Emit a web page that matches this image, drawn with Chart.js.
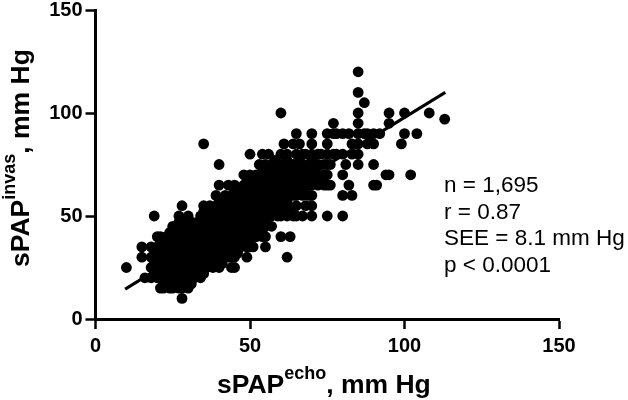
<!DOCTYPE html>
<html>
<head>
<meta charset="utf-8">
<style>html,body{margin:0;padding:0;background:#fff}canvas{display:block}</style>
<script src="https://cdn.jsdelivr.net/npm/chart.js@4"></script>
</head>
<body>
<canvas id="c" width="628" height="400"></canvas>
<script>
const xTicks = [0, 50, 100, 150];
const yTicks = [0, 50, 100, 150];
const statLines = ["n = 1,695", "r = 0.87", "SEE = 8.1 mm Hg", "p < 0.0001"];
const regressionX = [9.6, 113.2];
const regressionY = [14.5, 110];

// Measured x positions, grouped by the sPAP-invasive level they sit on
const levels = [10, 15, 17, 20, 22, 25, 27, 30, 32, 35, 37, 40, 42, 45, 47, 50, 52, 55, 57, 60, 62, 65, 67, 70, 72, 75, 77, 80, 85, 90, 95, 97, 100, 105, 110, 120];
const x10 = [28];
const x15 = [21, 22, 24, 25, 27, 28, 30];
const x17 = [22, 24, 26, 28, 29, 31];
const x20 = [16, 18, 20, 21, 22, 24, 25, 26, 27, 28, 30, 31, 32, 34];
const x22 = [19, 21, 23, 25, 27, 29, 31, 33, 35];
const x25 = [10, 18, 20, 22, 23, 25, 26, 28, 29, 30, 32, 33, 35, 36, 38, 40, 44, 45];
const x27 = [19, 22, 24, 26, 28, 30, 32, 34, 36, 38, 41];
const x30 = [15, 18, 20, 21, 23, 25, 26, 28, 30, 31, 33, 35, 36, 38, 40, 41, 43, 44, 45, 49, 62];
const x32 = [19, 21, 24, 26, 28, 30, 33, 35, 37, 39, 41, 44, 46];
const x35 = [15, 18, 20, 22, 24, 25, 27, 29, 30, 32, 34, 35, 37, 39, 40, 42, 44, 45, 47, 49, 50, 51, 55];
const x37 = [21, 23, 25, 27, 29, 31, 33, 35, 38, 40, 42, 44, 46, 48, 50];
const x40 = [20, 21, 23, 25, 27, 28, 30, 32, 34, 35, 37, 39, 40, 42, 44, 45, 47, 49, 50, 52, 54, 55, 60, 63];
const x42 = [24, 26, 28, 30, 32, 34, 36, 38, 40, 42, 44, 46, 48, 50, 52, 54];
const x45 = [25, 27, 28, 30, 32, 34, 35, 37, 39, 40, 42, 44, 45, 47, 49, 50, 52, 54, 55, 57];
const x47 = [27, 29, 31, 33, 35, 37, 39, 41, 43, 45, 47, 49, 51, 53, 55];
const x50 = [19, 27, 30, 34, 35, 37, 39, 40, 42, 44, 45, 47, 49, 50, 52, 54, 55, 57, 59, 60, 62, 64, 65, 67, 70, 75, 80];
const x52 = [35, 37, 39, 41, 43, 45, 47, 49, 51, 53, 55, 57, 59, 61, 63];
const x55 = [28, 35, 37, 39, 40, 42, 44, 45, 47, 49, 50, 52, 54, 55, 57, 59, 60, 62, 65, 68, 70];
const x57 = [40, 42, 44, 46, 48, 50, 52, 54, 56, 58, 60, 62];
const x60 = [39, 42, 44, 45, 47, 49, 50, 52, 54, 55, 57, 59, 60, 62, 64, 65, 67, 69, 70, 80, 83];
const x62 = [45, 47, 49, 51, 53, 55, 57, 59, 61, 63, 65, 67];
const x65 = [40, 43, 45, 48, 50, 52, 54, 55, 57, 59, 60, 62, 64, 65, 67, 69, 70, 72, 74, 75, 76, 82, 90, 91];
const x67 = [49, 51, 53, 55, 57, 59, 61, 64, 66, 68, 70, 72];
const x70 = [48, 50, 52, 54, 55, 57, 59, 60, 62, 64, 65, 67, 69, 70, 72, 74, 75, 80, 94, 95, 102];
const x72 = [54, 57, 60, 62, 65, 68, 71];
const x75 = [40, 53, 55, 57, 59, 60, 62, 64, 65, 67, 69, 70, 72, 74, 75, 76, 81, 85, 90];
const x77 = [58, 62, 66, 70];
const x80 = [50, 54, 56, 60, 62, 65, 67, 68, 70, 72, 73, 75, 77, 78, 80, 83, 85];
const x85 = [35, 61, 64, 66, 70, 75, 83, 85, 88, 90, 99];
const x90 = [65, 70, 75, 77, 78, 80, 82, 85, 87, 88, 90, 92, 100, 104];
const x95 = [77, 85, 95];
const x97 = [113];
const x100 = [60, 85, 95, 100, 108];
const x105 = [87];
const x110 = [85];
const x120 = [85];
const rows = [x10, x15, x17, x20, x22, x25, x27, x30, x32, x35, x37, x40, x42, x45, x47, x50, x52, x55, x57, x60, x62, x65, x67, x70, x72, x75, x77, x80, x85, x90, x95, x97, x100, x105, x110, x120];

const points = [];
rows.forEach((xs, i) => xs.forEach(x => points.push({ x, y: levels[i] })));
const regression = regressionX.map((x, i) => ({ x, y: regressionY[i] }));

function drawRuns(ctx, runs) {
  let pos = 0;
  runs.forEach(r => {
    ctx.font = r.font;
    ctx.fillText(r.text, pos, r.raise ? -r.raise : 0);
    pos += ctx.measureText(r.text).width;
  });
}

const textPlugin = {
  id: 'textPlugin',
  afterDraw(chart) {
    const ctx = chart.ctx;
    ctx.save();
    ctx.fillStyle = '#000';
    ctx.textBaseline = 'alphabetic';
    ctx.textAlign = 'left';
    const big = 'bold 26.5px "Liberation Sans"';
    const small = 'bold 18px "Liberation Sans"';
    ctx.save();
    ctx.translate(217, 393);
    drawRuns(ctx, [
      { text: 'sPAP', font: big },
      { text: 'echo', font: small, raise: 14 },
      { text: ', mm Hg', font: big }
    ]);
    ctx.restore();
    ctx.save();
    ctx.translate(29, 267);
    ctx.rotate(-Math.PI / 2);
    drawRuns(ctx, [
      { text: 'sPAP', font: big },
      { text: 'invas', font: small, raise: 14 },
      { text: ', mm Hg', font: big }
    ]);
    ctx.restore();
    ctx.font = '22.5px "Liberation Sans"';
    const baselines = [192, 219, 245, 272];
    statLines.forEach((t, i) => ctx.fillText(t, 444, baselines[i]));
    ctx.restore();
  }
};

const axisBase = {
  type: 'linear',
  min: 0,
  max: 150,
  border: { display: true, color: '#000', width: 3 },
  grid: { drawOnChartArea: false, drawTicks: true, color: '#000', tickColor: '#000', tickLength: 10, tickWidth: 2.5 },
  afterBuildTicks(scale) { scale.ticks = (scale.axis === 'x' ? xTicks : yTicks).map(value => ({ value })); }
};

new Chart(document.getElementById('c'), {
  type: 'scatter',
  data: {
    datasets: [
      { data: points, backgroundColor: '#000', borderColor: '#000', pointRadius: 5.4, pointBorderWidth: 0, order: 2 },
      { data: regression, showLine: true, borderColor: '#000', borderWidth: 3, pointRadius: 0, order: 1 }
    ]
  },
  options: {
    responsive: false,
    animation: false,
    devicePixelRatio: 1,
    layout: { padding: { left: 0, top: 10, right: 69, bottom: 0 } },
    plugins: { legend: { display: false }, tooltip: { enabled: false } },
    scales: {
      x: Object.assign({}, axisBase, {
        ticks: { color: '#000', font: { family: '"Liberation Sans"', size: 20, weight: 'bold' }, padding: 5, maxRotation: 0, autoSkip: false },
        afterFit(s) { s.height = 81; s.paddingLeft = 0; s.paddingRight = 0; }
      }),
      y: Object.assign({}, axisBase, {
        ticks: { color: '#000', font: { family: '"Liberation Sans"', size: 20, weight: 'bold' }, padding: 3, autoSkip: false },
        afterFit(s) { s.width = 95.5; s.paddingTop = 0; s.paddingBottom = 0; }
      })
    }
  },
  plugins: [textPlugin]
});
</script>
</body>
</html>
